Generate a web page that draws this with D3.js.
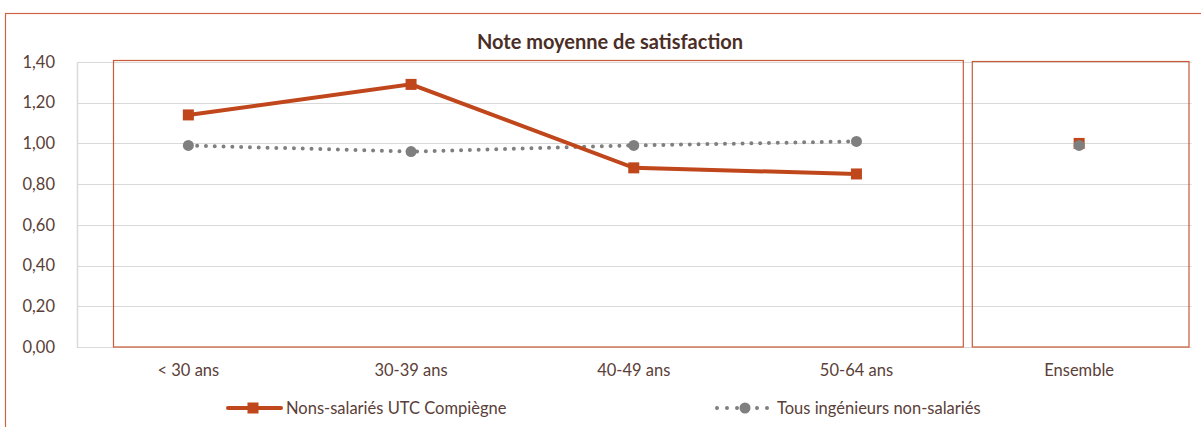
<!DOCTYPE html>
<html>
<head>
<meta charset="utf-8">
<script src="https://cdn.jsdelivr.net/npm/d3@7"></script>
<style>
  body { margin: 0; background: #fff; }
  svg { display: block; font-family: Lato, 'Open Sans', sans-serif; }
</style>
</head>
<body>
<div class="svg-div"></div>
<script>
// data
const categories = ['< 30 ans', '30-39 ans', '40-49 ans', '50-64 ans', 'Ensemble']
const utcValues = [1.14, 1.29, 0.88, 0.85, 1.00]
const allValues = [0.99, 0.96, 0.99, 1.01, 0.99]
const yTicks = [0, 0.2, 0.4, 0.6, 0.8, 1.0, 1.2, 1.4]
const seriesNames = ['Nons-salariés UTC Compiègne', 'Tous ingénieurs non-salariés']

const w = 1201
const h = 427
const plotLeft = 77
const plotRight = 1190.5
const plotTop = 62
const plotBottom = 347
const textColor = '#5a4038'
const red = '#c0461c'
const grey = '#7f7f7f'
const fontSize = '16.5px'

const svg = d3.select('.svg-div')
    .append('svg')
    .attr('width', w)
    .attr('height', h)

// outer frame
svg.append('rect')
    .attr('x', 5.5)
    .attr('y', 13.5)
    .attr('width', w + 10)
    .attr('height', h)
    .attr('fill', 'none')
    .attr('stroke', '#cf6444')
    .attr('stroke-width', 1.2)

const xScale = d3.scaleBand()
    .domain(categories)
    .range([plotLeft, plotRight])

const yScale = d3.scaleLinear()
    .domain([0, 1.4])
    .range([plotBottom, plotTop])

const fmt = d => d.toFixed(2).replace('.', ',')

// gridlines
svg.append('g')
    .selectAll('line')
    .data(yTicks)
    .enter()
    .append('line')
    .attr('x1', plotLeft)
    .attr('x2', plotRight + 1)
    .attr('y1', d => Math.round(yScale(d)) + 0.5)
    .attr('y2', d => Math.round(yScale(d)) + 0.5)
    .attr('stroke', '#d9d9d9')
    .attr('stroke-width', 1)

const yAxis = d3.axisLeft(yScale).tickValues(yTicks).tickFormat(fmt).tickSize(0).tickPadding(22)
const yg = svg.append('g')
    .attr('transform', 'translate(' + plotLeft + ',0)')
    .call(yAxis)
yg.select('.domain').attr('stroke', '#d9d9d9').attr('stroke-width', 1.5)
yg.selectAll('text').attr('fill', textColor).style('font-size', fontSize).style('font-family', 'Lato, sans-serif')

const xAxis = d3.axisBottom(xScale).tickSize(0).tickPadding(17)
const xg = svg.append('g')
    .attr('transform', 'translate(0,' + plotBottom + ')')
    .call(xAxis)
xg.select('.domain').attr('stroke', '#d9d9d9')
xg.selectAll('text').attr('fill', textColor).style('font-size', fontSize).style('font-family', 'Lato, sans-serif')

// highlight frames around the age groups and the total
const bw = xScale.bandwidth()
svg.append('rect')
    .attr('x', xScale(categories[0]) + 36.5)
    .attr('y', plotTop - 1.5)
    .attr('width', xScale(categories[4]) - 5 - (xScale(categories[0]) + 36))
    .attr('height', plotBottom - plotTop + 1.5)
    .attr('fill', 'none')
    .attr('stroke', '#c85a38')
    .attr('stroke-width', 1.2)
svg.append('rect')
    .attr('x', xScale(categories[4]) + 4.5)
    .attr('y', plotTop - 0.5)
    .attr('width', bw - 6)
    .attr('height', plotBottom - plotTop + 0.5)
    .attr('fill', 'none')
    .attr('stroke', '#c85a38')
    .attr('stroke-width', 1.2)

const cx = c => xScale(c) + bw / 2

const line = d3.line()
    .defined((d, i) => i < 4)
    .x((d, i) => cx(categories[i]))
    .y(d => yScale(d))

// grey dotted series
svg.append('path')
    .datum(allValues)
    .attr('d', line)
    .attr('fill', 'none')
    .attr('stroke', grey)
    .attr('stroke-width', 4)
    .attr('stroke-linecap', 'round')
    .attr('stroke-dasharray', '0 8.8')

// red series
svg.append('path')
    .datum(utcValues)
    .attr('d', line)
    .attr('fill', 'none')
    .attr('stroke', red)
    .attr('stroke-width', 4)

svg.append('g')
    .selectAll('rect')
    .data(utcValues)
    .enter()
    .append('rect')
    .attr('x', (d, i) => cx(categories[i]) - 5.5)
    .attr('y', d => yScale(d) - 5.5)
    .attr('width', 11)
    .attr('height', 11)
    .attr('fill', red)

svg.append('g')
    .selectAll('circle')
    .data(allValues)
    .enter()
    .append('circle')
    .attr('cx', (d, i) => cx(categories[i]))
    .attr('cy', d => yScale(d))
    .attr('r', 5.5)
    .attr('fill', grey)

// title
svg.append('text')
    .attr('x', 610)
    .attr('y', 49)
    .attr('text-anchor', 'middle')
    .attr('fill', '#4b2e25')
    .style('font-size', '20px')
    .style('font-weight', 'bold')
    .text('Note moyenne de satisfaction')

// legend
const lg = svg.append('g')
lg.append('line')
    .attr('x1', 228).attr('x2', 281).attr('y1', 408).attr('y2', 408)
    .attr('stroke', red).attr('stroke-width', 4).attr('stroke-linecap', 'round')
lg.append('rect')
    .attr('x', 247.5).attr('y', 402.5).attr('width', 11).attr('height', 11)
    .attr('fill', red)
lg.append('text')
    .attr('x', 286).attr('y', 414)
    .attr('fill', textColor)
    .style('font-size', fontSize)
    .text(seriesNames[0])

lg.append('line')
    .attr('x1', 717).attr('x2', 768).attr('y1', 408).attr('y2', 408)
    .attr('stroke', grey).attr('stroke-width', 4).attr('stroke-linecap', 'round')
    .attr('stroke-dasharray', '0 10')
lg.append('circle')
    .attr('cx', 745).attr('cy', 408).attr('r', 5.5)
    .attr('fill', grey)
lg.append('text')
    .attr('x', 777).attr('y', 414)
    .attr('fill', textColor)
    .style('font-size', fontSize)
    .text(seriesNames[1])
</script>
</body>
</html>
